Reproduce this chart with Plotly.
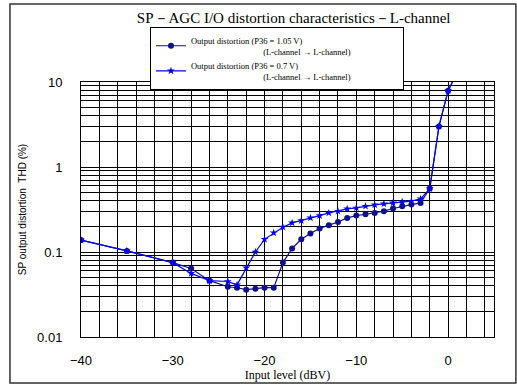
import plotly.graph_objects as go

# input level (dBV)
x_105 = [-40, -35, -30, -28, -26, -24, -23, -22, -21, -20, -19, -18, -17, -16, -15,
         -14, -13, -12, -11, -10, -9, -8, -7, -6, -5, -4, -3, -2, -1, 0, 1]
thd_105 = [0.138, 0.103, 0.075, 0.064, 0.046, 0.039, 0.038, 0.036, 0.037, 0.038, 0.038,
           0.075, 0.110, 0.141, 0.165, 0.189, 0.207, 0.225, 0.252, 0.268, 0.278, 0.288,
           0.302, 0.325, 0.346, 0.361, 0.378, 0.557, 3.0, 7.9, 13.0]

x_07 = [-40, -35, -30, -28, -26, -24, -23, -22, -21, -20, -19, -18, -17, -16, -15,
        -14, -13, -12, -11, -10, -9, -8, -7, -6, -5, -4, -3, -2, -1, 0, 1]
thd_07 = [0.138, 0.103, 0.075, 0.056, 0.046, 0.045, 0.041, 0.065, 0.100, 0.141, 0.168,
          0.196, 0.220, 0.234, 0.252, 0.268, 0.288, 0.302, 0.322, 0.330, 0.346, 0.359,
          0.368, 0.378, 0.389, 0.396, 0.422, 0.557, 3.0, 7.9, 13.0]

pad = "&nbsp;" * 34
name_105 = "Output distortion (P36 = 1.05 V)<br>" + pad + "(L-channel → L-channel)" + "&nbsp;" * 22
name_07 = "Output distortion (P36 = 0.7 V)<br>" + pad + "(L-channel → L-channel)" + "&nbsp;" * 22

fig = go.Figure()
fig.add_trace(go.Scatter(x=x_105, y=thd_105, mode='lines+markers', name=name_105,
                         line=dict(color='#10108C', width=1.2),
                         marker=dict(symbol='circle', size=6, color='#10108C')))
fig.add_trace(go.Scatter(x=x_07, y=thd_07, mode='lines+markers', name=name_07,
                         line=dict(color='#0000FF', width=1.2),
                         marker=dict(symbol='star', size=6, color='#0000FF')))

fig.update_layout(
    width=517, height=385,
    margin=dict(l=81, r=23, t=82, b=48),
    paper_bgcolor='white', plot_bgcolor='white',
    font=dict(family='Liberation Sans', size=13, color='black'),
    title=dict(text='SP－AGC I/O distortion characteristics－L-channel',
               x=0.515, xref='paper', xanchor='center', y=0.955, yanchor='middle',
               font=dict(family='Liberation Serif', size=15)),
    showlegend=True,
    legend=dict(x=0.167, y=1.215, xanchor='left', yanchor='top',
                bgcolor='white', bordercolor='black', borderwidth=1,
                font=dict(family='Liberation Serif', size=8.5),
                tracegroupgap=0, itemwidth=30),
    shapes=[dict(type='rect', xref='paper', yref='paper', x0=-0.172, x1=1.053,
                 y0=-0.18, y1=1.306, line=dict(color='#333333', width=1.5))],
)

fig.update_xaxes(range=[-40, 5], dtick=10, tick0=0, showgrid=True, gridcolor='black',
                 gridwidth=1, showline=True, linecolor='black', mirror=True,
                 zeroline=False, ticks='', ticklabelstandoff=11, automargin=False,
                 minor=dict(dtick=2, tick0=0, showgrid=True, gridcolor='black', gridwidth=1),
                 title=dict(text='Input level (dBV)', standoff=0,
                            font=dict(family='Liberation Serif', size=12)))
fig.update_yaxes(type='log', range=[-2, 1], dtick=1, showgrid=True, gridcolor='black',
                 gridwidth=1, showline=True, linecolor='black', mirror=True,
                 zeroline=False, ticks='', ticklabelstandoff=15, automargin=False,
                 minor=dict(dtick='D1', showgrid=True, gridcolor='black', gridwidth=1),
                 title=dict(text='SP output distortion  THD (%)', standoff=8,
                            font=dict(size=10)))

fig.write_html("out.html", config={'displayModeBar': False},
               post_script="document.body.style.margin='0px';")
